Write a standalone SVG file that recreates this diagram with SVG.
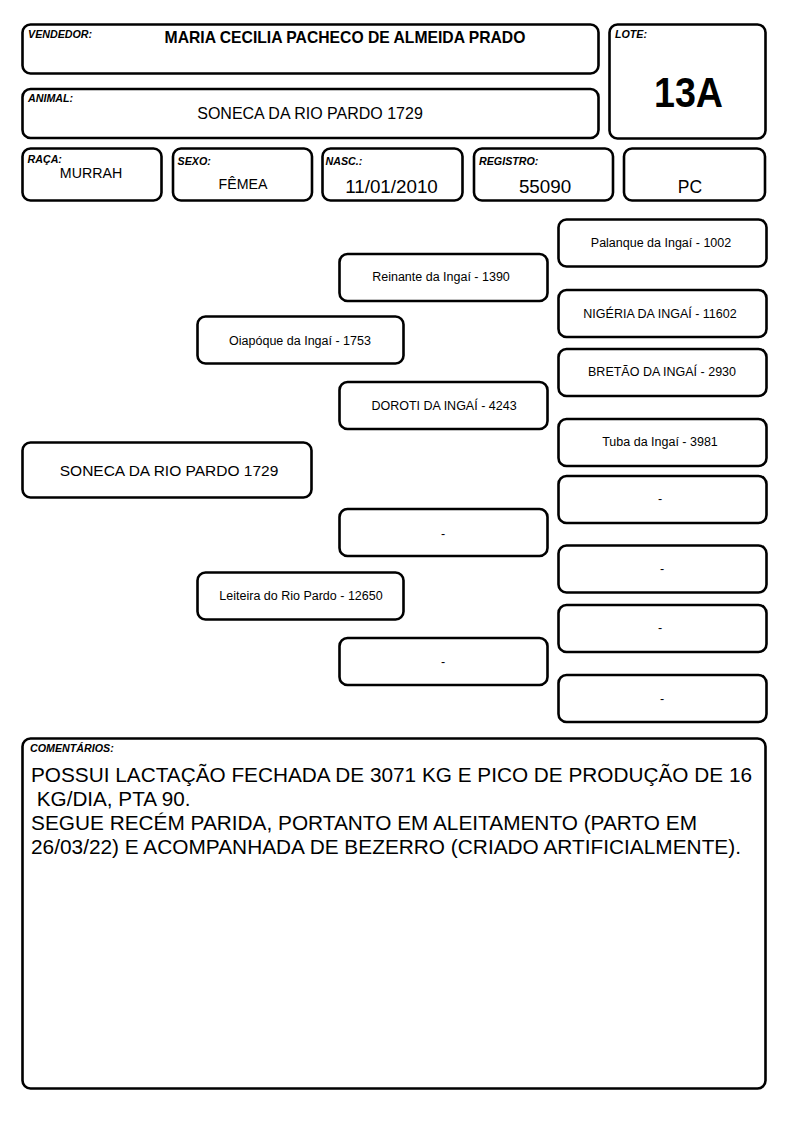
<svg xmlns="http://www.w3.org/2000/svg" width="794" height="1123" viewBox="0 0 794 1123">
<style>
.box{fill:#fff;stroke:#000;stroke-width:2.6}
.lbl{font-family:"Liberation Sans",Arial,sans-serif;font-size:10.7px;font-weight:bold;font-style:italic;fill:#000}
.val{font-family:"Liberation Sans",Arial,sans-serif;fill:#000;text-anchor:middle}
.ped{font-family:"Liberation Sans",Arial,sans-serif;font-size:12.5px;fill:#000;text-anchor:middle}
.com{font-family:"Liberation Sans",Arial,sans-serif;font-size:20.7px;fill:#000}
</style>
<rect width="794" height="1123" fill="#fff"/>
<g id="vendedor"><rect class="box" x="22.5" y="24.5" width="576" height="49" rx="8"/><text class="lbl" x="28" y="38">VENDEDOR:</text><text class="val" x="345" y="43.3" font-size="15.7" font-weight="bold">MARIA CECILIA PACHECO DE ALMEIDA PRADO</text></g>
<g id="lote"><rect class="box" x="609.5" y="24.5" width="156" height="114" rx="8"/><text class="lbl" x="615" y="38">LOTE:</text><text class="val" x="688.5" y="106.5" font-size="43" font-weight="bold" textLength="69" lengthAdjust="spacingAndGlyphs">13A</text></g>
<g id="animal"><rect class="box" x="22.5" y="89" width="576" height="49" rx="8"/><text class="lbl" x="28" y="102">ANIMAL:</text><text class="val" x="310" y="118.5" font-size="16">SONECA DA RIO PARDO 1729</text></g>
<g id="raca"><rect class="box" x="22.5" y="148.5" width="139" height="52" rx="8"/><text class="lbl" x="27.5" y="163">RAÇA:</text><text class="val" x="91" y="177.5" font-size="14.2">MURRAH</text></g>
<g id="sexo"><rect class="box" x="173" y="148.5" width="139" height="52" rx="8"/><text class="lbl" x="177.5" y="165">SEXO:</text><text class="val" x="243" y="189" font-size="14.2">FÊMEA</text></g>
<g id="nasc"><rect class="box" x="322.5" y="148.5" width="140" height="52" rx="8"/><text class="lbl" x="325.5" y="165">NASC.:</text><text class="val" x="391.5" y="193.3" font-size="18.8">11/01/2010</text></g>
<g id="registro"><rect class="box" x="474" y="148.5" width="139" height="52" rx="8"/><text class="lbl" x="479" y="165">REGISTRO:</text><text class="val" x="545" y="193.3" font-size="18.8">55090</text></g>
<g id="pc"><rect class="box" x="624" y="148.5" width="141" height="52" rx="8"/><text class="val" x="690" y="193.3" font-size="17.5">PC</text></g>
<g id="connectors"></g>
<g id="n-main"><rect class="box" x="22.5" y="442.5" width="289" height="55" rx="8"/><text class="val" x="169" y="476" font-size="15.5">SONECA DA RIO PARDO 1729</text></g>
<g id="n-oiapoque"><rect class="box" x="197.5" y="316.5" width="206" height="47" rx="8"/><text class="ped" x="300" y="345">Oiapóque da Ingaí - 1753</text></g>
<g id="n-leiteira"><rect class="box" x="197.5" y="572.5" width="206" height="47" rx="8"/><text class="ped" x="301" y="599.5">Leiteira do Rio Pardo - 12650</text></g>
<g id="n-reinante"><rect class="box" x="339.5" y="254" width="208" height="47" rx="8"/><text class="ped" x="441" y="280.5">Reinante da Ingaí - 1390</text></g>
<g id="n-doroti"><rect class="box" x="339.5" y="382" width="208" height="47" rx="8"/><text class="ped" x="444" y="410">DOROTI DA INGAÍ - 4243</text></g>
<g id="n-mid3"><rect class="box" x="339.5" y="509" width="208" height="47" rx="8"/><text class="ped" x="443" y="538">-</text></g>
<g id="n-mid4"><rect class="box" x="339.5" y="638" width="208" height="47" rx="8"/><text class="ped" x="443" y="666">-</text></g>
<g id="n-palanque"><rect class="box" x="558.5" y="219.5" width="208" height="47" rx="8"/><text class="ped" x="661" y="246.7">Palanque da Ingaí - 1002</text></g>
<g id="n-nigeria"><rect class="box" x="558.5" y="290" width="208" height="47" rx="8"/><text class="ped" x="660" y="318">NIGÉRIA DA INGAÍ - 11602</text></g>
<g id="n-bretao"><rect class="box" x="558.5" y="349" width="208" height="47" rx="8"/><text class="ped" x="662" y="376">BRETÃO DA INGAÍ - 2930</text></g>
<g id="n-tuba"><rect class="box" x="558.5" y="419" width="208" height="47" rx="8"/><text class="ped" x="660" y="446">Tuba da Ingaí - 3981</text></g>
<g id="n-r5"><rect class="box" x="558.5" y="476" width="208" height="47" rx="8"/><text class="ped" x="660" y="503">-</text></g>
<g id="n-r6"><rect class="box" x="558.5" y="545.5" width="208" height="47" rx="8"/><text class="ped" x="662" y="573">-</text></g>
<g id="n-r7"><rect class="box" x="558.5" y="605" width="208" height="47" rx="8"/><text class="ped" x="660" y="632">-</text></g>
<g id="n-r8"><rect class="box" x="558.5" y="675" width="208" height="47" rx="8"/><text class="ped" x="662" y="703">-</text></g>
<g id="comentarios"><rect class="box" x="22.5" y="738.5" width="743" height="350" rx="8"/><text class="lbl" x="30" y="752">COMENTÁRIOS:</text>
<text class="com" x="31" y="782" textLength="721" lengthAdjust="spacingAndGlyphs">POSSUI LACTAÇÃO FECHADA DE 3071 KG E PICO DE PRODUÇÃO DE 16</text>
<text class="com" x="31" y="806" xml:space="preserve"> KG/DIA, PTA 90.</text>
<text class="com" x="31" y="830" textLength="666" lengthAdjust="spacingAndGlyphs">SEGUE RECÉM PARIDA, PORTANTO EM ALEITAMENTO (PARTO EM</text>
<text class="com" x="31" y="854" textLength="710" lengthAdjust="spacingAndGlyphs">26/03/22) E ACOMPANHADA DE BEZERRO (CRIADO ARTIFICIALMENTE).</text>
</g>
</svg>
